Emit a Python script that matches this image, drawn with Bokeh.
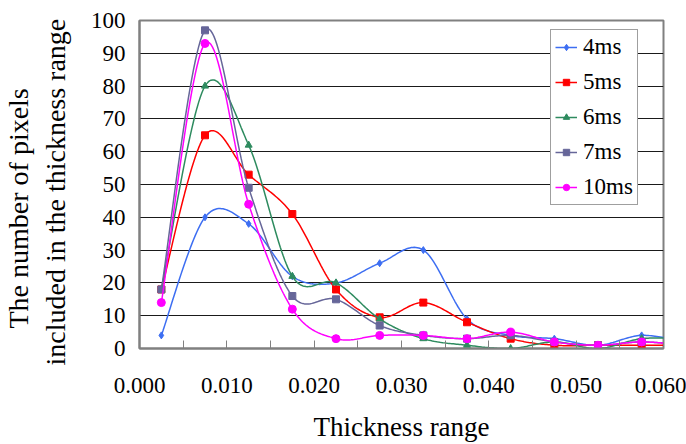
import numpy as np
from bokeh.plotting import figure
from bokeh.models import (Range1d, FixedTicker, NumeralTickFormatter, Legend, LegendItem, Title)
from bokeh.embed import file_html
from bokeh.resources import INLINE

# ---- data ----
thickness = [0.0025, 0.0075, 0.0125, 0.0175, 0.0225, 0.0275, 0.0325,
             0.0375, 0.0425, 0.0475, 0.0525, 0.0575, 0.0625]
s4ms = [4, 40, 38, 22, 20, 26, 30, 9, 4, 3, 1, 4, 2]
s5ms = [18, 65, 53, 41, 18, 9.5, 14, 8, 3, 1, 1, 1, 1]
s6ms = [18, 80, 62, 22, 20, 9, 3, 1, 0, 2, 0, 3, 3]
s7ms = [18, 97, 49, 16, 15, 7, 4, 3, 4, 2, 1, 2, 1]
s10ms = [14, 93, 44, 12, 3, 4, 4, 3, 5, 2, 1, 2, 1]
series_names = ["4ms", "5ms", "6ms", "7ms", "10ms"]
x_ticks = [0.0, 0.01, 0.02, 0.03, 0.04, 0.05, 0.06]
x_minor = [0.005, 0.015, 0.025, 0.035, 0.045, 0.055]
y_ticks = [0, 10, 20, 30, 40, 50, 60, 70, 80, 90, 100]
y_title_lines = ["The number of pixels", "included in the thickness range"]

colors = ["#3D6EF2", "#FF0000", "#2E8B5F", "#666699", "#FF00FF"]
markers = ["diamond", "square", "triangle", "square", "circle"]
msizes = [7, 7, 7, 7, 8]


def smooth(xs, ys, n=30):
    """Catmull-Rom style smoothing (like a spreadsheet's smoothed line)."""
    xs = np.asarray(xs, float)
    ys = np.asarray(ys, float)
    px = np.concatenate([[xs[0]], xs, [xs[-1]]])
    py = np.concatenate([[ys[0]], ys, [ys[-1]]])
    ox, oy = [], []
    for i in range(1, len(px) - 2):
        x0, x1, x2, x3 = px[i - 1], px[i], px[i + 1], px[i + 2]
        y0, y1, y2, y3 = py[i - 1], py[i], py[i + 1], py[i + 2]
        c1x, c1y = x1 + (x2 - x0) / 6, y1 + (y2 - y0) / 6
        c2x, c2y = x2 - (x3 - x1) / 6, y2 - (y3 - y1) / 6
        t = np.linspace(0, 1, n)
        a = (1 - t) ** 3
        b = 3 * (1 - t) ** 2 * t
        c = 3 * (1 - t) * t ** 2
        d = t ** 3
        ox.extend(a * x1 + b * c1x + c * c2x + d * x2)
        oy.extend(a * y1 + b * c1y + c * c2y + d * y2)
    return ox, oy


p = figure(width=686, height=444, output_backend="svg", toolbar_location=None,
           x_range=Range1d(0, 0.06), y_range=Range1d(0, 100),
           min_border_left=137, min_border_right=23, min_border_top=20,
           min_border_bottom=91)
p.background_fill_color = "white"
p.border_fill_color = "white"
p.outline_line_color = "#808080"
p.outline_line_width = 2

FONT = "Liberation Serif"

p.xaxis.ticker = FixedTicker(ticks=x_ticks, minor_ticks=x_minor)
p.xaxis.formatter = NumeralTickFormatter(format="0.000")
p.yaxis.ticker = FixedTicker(ticks=y_ticks)
for ax in (p.xaxis[0], p.yaxis[0]):
    ax.axis_line_color = "#808080"
    ax.axis_line_width = 2
    ax.major_tick_line_color = "#808080"
    ax.minor_tick_line_color = "#808080"
    ax.major_label_text_font = FONT
    ax.major_label_text_font_style = "normal"
    ax.major_label_text_font_size = "23px"
    ax.major_label_text_color = "black"
p.xaxis.major_tick_in = 8
p.xaxis.major_tick_out = 0
p.xaxis.minor_tick_in = 8
p.xaxis.minor_tick_out = 0
p.xaxis.major_label_standoff = 29
p.yaxis.major_tick_in = 0
p.yaxis.major_tick_out = 0
p.yaxis.minor_tick_line_color = None
p.yaxis.major_label_standoff = 14
# tiny blank axis label used only as a spacer before the title lines
p.yaxis.axis_label = " "
p.yaxis.axis_label_text_font_size = "1px"
p.yaxis.axis_label_standoff = 9

p.xaxis.axis_label = "Thickness range"
p.xaxis.axis_label_text_font = FONT
p.xaxis.axis_label_text_font_size = "27px"
p.xaxis.axis_label_text_font_style = "normal"
p.xaxis.axis_label_text_color = "black"
p.xaxis.axis_label_standoff = 16

p.xgrid.grid_line_color = None
p.ygrid.ticker = FixedTicker(ticks=y_ticks[1:])
p.ygrid.grid_line_color = "#1a1a1a"
p.ygrid.grid_line_width = 1

t2 = Title(text=y_title_lines[1], align="left", offset=-17,
           text_font=FONT, text_font_size="28px", text_font_style="normal",
           text_color="black", standoff=8)
t1 = Title(text=y_title_lines[0], align="left", offset=20,
           text_font=FONT, text_font_size="28px", text_font_style="normal",
           text_color="black", standoff=0)
p.add_layout(t2, "left")
p.add_layout(t1, "left")

all_series = [s4ms, s5ms, s6ms, s7ms, s10ms]
items = []
for name, ys, col, mk, ms in zip(series_names, all_series, colors, markers, msizes):
    sx, sy = smooth(thickness, ys)
    lr = p.line(sx, sy, line_color=col, line_width=1.5)
    sr = p.scatter(thickness, ys, marker=mk, size=ms, fill_color=col, line_color=col)
    items.append(LegendItem(label=name, renderers=[lr, sr]))

legend = Legend(items=items, location=(411, 143))
legend.label_text_font = FONT
legend.label_text_font_style = "normal"
legend.label_text_font_size = "23px"
legend.label_text_color = "black"
legend.border_line_color = "#404040"
legend.border_line_width = 1
legend.background_fill_color = "white"
legend.background_fill_alpha = 1
legend.padding = 4
legend.spacing = 9
legend.margin = 0
legend.label_height = 22
legend.glyph_height = 16
legend.glyph_width = 22
legend.label_standoff = 6
p.add_layout(legend)

open("out.html", "w").write(file_html(p, INLINE))
